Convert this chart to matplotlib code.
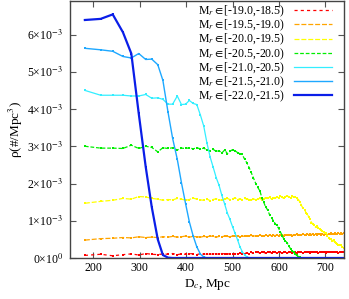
import matplotlib
matplotlib.use("Agg")
import matplotlib.pyplot as plt
from matplotlib.lines import Line2D
from matplotlib.ticker import FixedLocator, FixedFormatter

plt.rcParams['font.family'] = ['Liberation Serif', 'DejaVu Serif']
plt.rcParams['mathtext.fontset'] = 'stix'

# comoving distance bin centres (Mpc)
D = [182, 216, 242, 264, 282, 298, 313, 326, 339, 350,
     361, 371, 381, 390, 399, 407, 415, 423, 431, 438,
     445, 452, 458, 465, 471, 477, 483, 489, 494, 500,
     505, 511, 516, 521, 526, 531, 536, 540, 545, 550,
     554, 559, 563, 567, 571, 576, 580, 584, 588, 592,
     595, 599, 603, 607, 610, 614, 618, 621, 625, 628,
     632, 635, 638, 642, 645, 648, 651, 655, 658, 661,
     664, 667, 670, 673, 676, 679, 682, 685, 688, 691,
     693, 696, 699, 702, 704, 707, 710, 713, 715, 718,
     720, 723, 726, 728, 731, 733, 736, 739]

# densities in units of 1e-3 Mpc^-3
rho_m19 = [0.07, 0.10, 0.06, 0.09, 0.11, 0.08, 0.12, 0.10, 0.09, 0.11,
           0.10, 0.12, 0.09, 0.11, 0.10, 0.12, 0.11, 0.09, 0.12, 0.10,
           0.11, 0.10, 0.12, 0.11, 0.10, 0.12, 0.11, 0.10, 0.12, 0.11,
           0.12, 0.10, 0.13, 0.11, 0.12, 0.14, 0.12, 0.15, 0.13, 0.16,
           0.15, 0.14, 0.16, 0.15, 0.13, 0.16, 0.15, 0.14, 0.16, 0.15,
           0.14, 0.16, 0.15, 0.13, 0.15, 0.16, 0.14, 0.15, 0.16, 0.14,
           0.15, 0.16, 0.14, 0.15, 0.17, 0.15, 0.14, 0.16, 0.15, 0.17,
           0.15, 0.14, 0.16, 0.15, 0.17, 0.15, 0.16, 0.14, 0.16, 0.15,
           0.17, 0.15, 0.16, 0.14, 0.16, 0.15, 0.17, 0.16, 0.15, 0.16,
           0.17, 0.15, 0.16, 0.14, 0.16, 0.17, 0.15, 0.16]

rho_m195 = [0.48, 0.52, 0.53, 0.55, 0.54, 0.57, 0.55, 0.56, 0.55, 0.57,
            0.56, 0.58, 0.56, 0.57, 0.59, 0.56, 0.58, 0.57, 0.56, 0.58,
            0.57, 0.59, 0.58, 0.56, 0.58, 0.57, 0.59, 0.58, 0.57, 0.59,
            0.58, 0.60, 0.57, 0.59, 0.58, 0.60, 0.59, 0.61, 0.58, 0.60,
            0.59, 0.61, 0.60, 0.58, 0.61, 0.60, 0.62, 0.59, 0.61, 0.60,
            0.62, 0.60, 0.61, 0.63, 0.60, 0.62, 0.61, 0.63, 0.62, 0.60,
            0.63, 0.61, 0.64, 0.62, 0.63, 0.61, 0.64, 0.62, 0.63, 0.65,
            0.62, 0.64, 0.63, 0.65, 0.62, 0.64, 0.63, 0.65, 0.64, 0.62,
            0.65, 0.63, 0.64, 0.66, 0.63, 0.65, 0.64, 0.66, 0.64, 0.65,
            0.66, 0.64, 0.65, 0.67, 0.65, 0.66, 0.64, 0.67]

rho_m20 = [1.47, 1.52, 1.55, 1.60, 1.58, 1.65, 1.64, 1.60, 1.58, 1.55,
           1.57, 1.56, 1.60, 1.58, 1.55, 1.57, 1.61, 1.58, 1.56, 1.55,
           1.58, 1.54, 1.57, 1.59, 1.56, 1.55, 1.58, 1.60, 1.57, 1.58,
           1.62, 1.57, 1.59, 1.56, 1.60, 1.58, 1.57, 1.55, 1.59, 1.56,
           1.58, 1.60, 1.57, 1.59, 1.62, 1.60, 1.63, 1.58, 1.62, 1.60,
           1.64, 1.62, 1.66, 1.63, 1.60, 1.65, 1.67, 1.64, 1.62, 1.66,
           1.63, 1.65, 1.60, 1.57, 1.50, 1.42, 1.35, 1.30, 1.22, 1.18,
           1.10, 1.05, 0.95, 0.92, 0.88, 0.82, 0.86, 0.80, 0.78, 0.74,
           0.72, 0.70, 0.66, 0.68, 0.60, 0.55, 0.52, 0.50, 0.45, 0.47,
           0.42, 0.40, 0.38, 0.36, 0.34, 0.35, 0.30, 0.28]

rho_m205 = [3.00, 2.95, 2.95, 2.94, 3.03, 2.94, 3.00, 2.97, 2.85, 2.96,
            2.94, 2.96, 2.90, 2.95, 2.94, 2.96, 2.93, 2.96, 2.93, 2.95,
            2.90, 2.88, 2.92, 2.86, 2.88, 2.82, 2.90, 2.80, 2.86, 2.91,
            2.88, 2.83, 2.80, 2.78, 2.65, 2.55, 2.42, 2.30, 2.15, 2.00,
            1.90, 1.80, 1.62, 1.50, 1.38, 1.28, 1.15, 1.08, 1.00, 0.92,
            0.88, 0.80, 0.70, 0.60, 0.52, 0.46, 0.40, 0.32, 0.25, 0.20,
            0.15, 0.10, 0.07, 0.04, 0.02, 0.01, 0, 0, 0, 0,
            0, 0, 0, 0, 0, 0, 0, 0, 0, 0,
            0, 0, 0, 0, 0, 0, 0, 0, 0, 0,
            0, 0, 0, 0, 0, 0, 0, 0]

rho_m21 = [4.50, 4.37, 4.37, 4.37, 4.35, 4.35, 4.39, 4.29, 4.30, 4.26,
           4.13, 4.13, 4.35, 4.12, 4.13, 4.23, 4.15, 4.12, 3.83, 3.54,
           3.08, 2.70, 2.45, 2.15, 1.95, 1.68, 1.45, 1.20, 1.05, 0.84,
           0.68, 0.48, 0.30, 0.17, 0.08, 0.03, 0.01, 0, 0, 0,
           0, 0, 0, 0, 0, 0, 0, 0, 0, 0,
           0, 0, 0, 0, 0, 0, 0, 0, 0, 0,
           0, 0, 0, 0, 0, 0, 0, 0, 0, 0,
           0, 0, 0, 0, 0, 0, 0, 0, 0, 0,
           0, 0, 0, 0, 0, 0, 0, 0, 0, 0,
           0, 0, 0, 0, 0, 0, 0, 0]

rho_m215 = [5.63, 5.59, 5.55, 5.41, 5.37, 5.49, 5.33, 5.34, 5.19, 4.77,
            3.92, 3.21, 2.65, 2.02, 1.45, 0.97, 0.60, 0.30, 0.10, 0.03,
            0, 0, 0, 0, 0, 0, 0, 0, 0, 0,
            0, 0, 0, 0, 0, 0, 0, 0, 0, 0,
            0, 0, 0, 0, 0, 0, 0, 0, 0, 0,
            0, 0, 0, 0, 0, 0, 0, 0, 0, 0,
            0, 0, 0, 0, 0, 0, 0, 0, 0, 0,
            0, 0, 0, 0, 0, 0, 0, 0, 0, 0,
            0, 0, 0, 0, 0, 0, 0, 0, 0, 0,
            0, 0, 0, 0, 0, 0, 0, 0]

rho_m22 = [6.39, 6.42, 6.54, 6.06, 5.49, 3.88, 2.45, 1.37, 0.50, 0.08,
           0.01, 0, 0, 0, 0, 0, 0, 0, 0, 0,
           0, 0, 0, 0, 0, 0, 0, 0, 0, 0,
           0, 0, 0, 0, 0, 0, 0, 0, 0, 0,
           0, 0, 0, 0, 0, 0, 0, 0, 0, 0,
           0, 0, 0, 0, 0, 0, 0, 0, 0, 0,
           0, 0, 0, 0, 0, 0, 0, 0, 0, 0,
           0, 0, 0, 0, 0, 0, 0, 0, 0, 0,
           0, 0, 0, 0, 0, 0, 0, 0, 0, 0,
           0, 0, 0, 0, 0, 0, 0, 0]

labels = [r"M$_r$$\in$[-19.0,-18.5)", r"M$_r$$\in$[-19.5,-19.0)", r"M$_r$$\in$[-20.0,-19.5)",
          r"M$_r$$\in$[-20.5,-20.0)", r"M$_r$$\in$[-21.0,-20.5)", r"M$_r$$\in$[-21.5,-21.0)",
          r"M$_r$$\in$[-22.0,-21.5)"]

xticks = [200, 300, 400, 500, 600, 700]
yticks = [0, 1, 2, 3, 4, 5, 6]
yticklabels = ["0×10$^{0}$", "1×10$^{-3}$", "2×10$^{-3}$", "3×10$^{-3}$",
               "4×10$^{-3}$", "5×10$^{-3}$", "6×10$^{-3}$"]

series = [rho_m19, rho_m195, rho_m20, rho_m205, rho_m21, rho_m215, rho_m22]
colors = ['#ff0000', '#ffa500', '#ffff00', '#00ee00', '#33eeff', '#1ea8ff', '#0a1ee8']
dashes = [(2.5, 2.5), (4, 1.5), (4, 1.5), (3, 1.5), None, None, None]
lws = [0.9, 0.9, 0.9, 0.9, 0.9, 1.0, 1.6]

fig = plt.figure(figsize=(3.49, 2.99), dpi=100)
ax = fig.add_axes([70/349, 1-258/299, (344-70)/349, (258-1)/299])

handles = []
for y, c, d, lw, lab in zip(series, colors, dashes, lws, labels):
    yy = [v * 1e-3 for v in y]
    kw = dict(color=c, lw=lw, marker='s', markersize=2.0, markeredgewidth=0)
    if d is not None:
        kw['dashes'] = d
    ax.plot(D, yy, **kw)
    hk = dict(color=c, lw=lw)
    if d is not None:
        hk['dashes'] = d
    handles.append(Line2D([], [], **hk))

ax.set_xlim(150, 740)
ax.set_ylim(0, 6.9e-3)
ax.xaxis.set_major_locator(FixedLocator(xticks))
ax.yaxis.set_major_locator(FixedLocator([t * 1e-3 for t in yticks]))
ax.yaxis.set_major_formatter(FixedFormatter(yticklabels))
ax.tick_params(direction='in', length=4, width=0.8, color='#555555',
               top=True, right=True, labelsize=8.5)
ax.tick_params(axis='y', pad=5)
ax.tick_params(axis='x', pad=3)
for s in ax.spines.values():
    s.set_color('#444444')
    s.set_linewidth(1.0)

ax.set_xlabel("D$_c$, Mpc", fontsize=9.5, labelpad=2)
ax.set_ylabel("ρ(#/Mpc$^3$)", fontsize=9.5, labelpad=2)

ax.legend(handles, labels, loc='upper right', bbox_to_anchor=(0.958, 0.99),
          frameon=False, markerfirst=False,
          fontsize=8.5, labelspacing=-0.1, handlelength=3.3, handletextpad=0.7,
          borderaxespad=0.0, borderpad=0.0)

fig.savefig("out.png", dpi=100)
